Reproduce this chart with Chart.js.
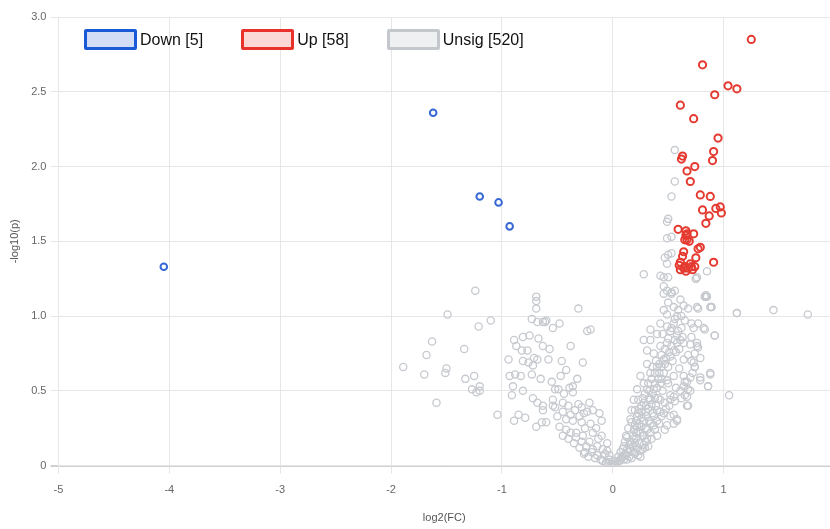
<!DOCTYPE html>
<html>
<head>
<meta charset="utf-8">
<script src="https://cdn.jsdelivr.net/npm/chart.js@4.4.1/dist/chart.umd.min.js"></script>
<style>
  html, body { margin: 0; padding: 0; background: #fff; overflow: hidden; }
  #wrap { position: relative; width: 830px; height: 529px; overflow: hidden; }
  #legend { position: absolute; left: 84px; top: 29px; display: flex; align-items: center;
    font-family: "Liberation Sans", Arial, sans-serif; font-size: 16px; color: #111; }
  .lg-item { display: flex; align-items: center; margin-right: 38px; }
  .lg-box { width: 47px; height: 15px; border: 3px solid; border-radius: 2px; margin-right: 3px; }
</style>
</head>
<body>
<div id="wrap">
  <canvas id="volcano" width="836" height="529"></canvas>
  <div id="legend"></div>
</div>
<script>
"use strict";

// ── 数据─────────────────────────────────────────
const legendLabels = ["Down [5]", "Up [58]", "Unsig [520]"];
const xTicks = [-5, -4, -3, -2, -1, 0, 1];
const yTicks = [0, 0.5, 1, 1.5, 2, 2.5, 3];

const downPts = [
  [-4.05, 1.33], [-1.62, 2.36], [-1.20, 1.80], [-1.03, 1.76], [-0.93, 1.60],
];

const upPts = [
  [1.25, 2.85], [0.81, 2.68], [1.04, 2.54], [1.12, 2.52], [0.92, 2.48], [0.61, 2.41],
  [0.73, 2.32], [0.95, 2.19], [0.91, 2.10], [0.90, 2.04], [0.63, 2.07], [0.62, 2.05],
  [0.67, 1.97], [0.74, 2.00], [0.70, 1.90], [0.79, 1.81], [0.88, 1.80], [0.81, 1.71],
  [0.93, 1.72], [0.97, 1.73], [0.98, 1.69], [0.87, 1.67], [0.84, 1.62], [0.59, 1.58],
  [0.66, 1.57], [0.67, 1.55], [0.73, 1.55], [0.65, 1.51], [0.67, 1.51], [0.79, 1.46],
  [0.64, 1.43], [0.75, 1.39], [0.91, 1.36], [0.61, 1.36], [0.65, 1.33], [0.61, 1.31],
  [0.68, 1.32], [0.71, 1.33], [0.74, 1.33], [0.64, 1.32], [0.69, 1.50], [0.66, 1.54],
  [0.70, 1.35], [0.72, 1.31], [0.63, 1.40], [0.77, 1.45], [0.60, 1.34], [0.66, 1.30],
];

const unsigPts = [
  // 上部零散点
  [0.56, 2.11], [0.56, 1.90], [0.53, 1.80], [0.50, 1.65], [0.49, 1.63], [0.49, 1.52],
  [0.53, 1.53], [0.47, 1.39], [0.50, 1.41], [0.53, 1.42], [0.49, 1.35], [0.28, 1.28],
  [0.43, 1.27], [0.46, 1.26], [0.50, 1.26], [0.46, 1.20], [0.49, 1.17], [0.53, 1.15],
  [0.56, 1.17], [0.76, 1.26], [0.85, 1.30], [0.84, 1.14], [0.75, 1.25], [0.83, 1.13],
  [0.89, 1.06], [0.77, 1.05], [1.12, 1.02], [1.45, 1.04], [1.76, 1.01],
  // 右臂
  [0.46, 1.15], [0.53, 1.16], [0.61, 1.11], [0.64, 1.07], [0.68, 1.05], [0.76, 1.06],
  [0.84, 1.13], [0.88, 1.06], [0.92, 0.87], [0.82, 0.92], [0.77, 0.95], [0.71, 0.95],
  [0.65, 0.97], [0.58, 1.00], [0.49, 1.01], [0.46, 1.04], [0.43, 0.95], [0.49, 0.93],
  [0.53, 0.92], [0.58, 0.87], [0.61, 0.84], [0.64, 0.82], [0.70, 0.81], [0.76, 0.80],
  [0.74, 0.75], [0.68, 0.74], [0.64, 0.71], [0.71, 0.70], [0.74, 0.66], [0.79, 0.72],
  [0.88, 0.62], [0.86, 0.53], [0.79, 0.59], [0.70, 0.59], [0.65, 0.56], [0.64, 0.53],
  [0.68, 0.51], [0.67, 0.46], [0.68, 0.40], [0.61, 0.50], [0.55, 0.46], [0.52, 0.44],
  [0.43, 0.44], [0.40, 0.37], [0.37, 0.33], [0.34, 0.28], [0.31, 0.24], [0.28, 0.20],
  [0.32, 0.13], [0.40, 0.20], [0.47, 0.24], [0.55, 0.28], [0.58, 0.31], [0.52, 0.33],
  [0.46, 0.35], [0.34, 0.44], [0.31, 0.51], [0.28, 0.55], [0.25, 0.60], [0.22, 0.51],
  [0.19, 0.44], [0.17, 0.37], [0.16, 0.31], [0.22, 0.26], [0.25, 0.22], [0.37, 0.51],
  [0.43, 0.55], [0.49, 0.57], [0.34, 0.62], [0.40, 0.66], [0.46, 0.71], [0.52, 0.73],
  [0.55, 0.77], [0.58, 0.82], [0.49, 0.82], [0.43, 0.80], [0.37, 0.75], [0.31, 0.68],
  [0.34, 0.84], [0.40, 0.88], [0.34, 0.91], [0.28, 0.84], [0.31, 0.77],
  [0.85, 1.13], [0.75, 1.25], [0.89, 1.06], [1.12, 1.02], [0.83, 0.91], [0.92, 0.87],
  [0.73, 0.92], [0.71, 0.86], [0.76, 0.82], [0.77, 0.79], [0.73, 0.69], [0.74, 0.66],
  [0.88, 0.61], [0.86, 0.53], [0.79, 0.57], [1.05, 0.47], [0.67, 0.56], [0.65, 0.47],
  [0.67, 0.40], [0.56, 0.43], [0.58, 0.30], [0.49, 0.27], [0.55, 0.34],
  // 右臂密集区
  [0.17, 0.05], [0.20, 0.08], [0.22, 0.12], [0.24, 0.15], [0.25, 0.10], [0.27, 0.20],
  [0.28, 0.14], [0.30, 0.25], [0.31, 0.18], [0.33, 0.30], [0.34, 0.22], [0.36, 0.35],
  [0.37, 0.27], [0.39, 0.40], [0.40, 0.30], [0.41, 0.45], [0.43, 0.36], [0.45, 0.50],
  [0.47, 0.42], [0.50, 0.55], [0.52, 0.47], [0.55, 0.60], [0.57, 0.52], [0.60, 0.65],
  [0.62, 0.45], [0.64, 0.60], [0.70, 0.50], [0.72, 0.62], [0.16, 0.10], [0.20, 0.15],
  [0.25, 0.06], [0.29, 0.12], [0.18, 0.20], [0.21, 0.30], [0.23, 0.35], [0.26, 0.40],
  [0.27, 0.45], [0.29, 0.48], [0.32, 0.55], [0.35, 0.58], [0.38, 0.62], [0.42, 0.68],
  [0.44, 0.74], [0.47, 0.78], [0.50, 0.85], [0.52, 0.90], [0.55, 0.95], [0.45, 0.88],
  [0.39, 0.70], [0.36, 0.66], [0.33, 0.50], [0.30, 0.40], [0.26, 0.32], [0.24, 0.28],
  [0.21, 0.22], [0.19, 0.18], [0.15, 0.14], [0.13, 0.11], [0.12, 0.20], [0.14, 0.25],
  [0.26, 0.36], [0.28, 0.42], [0.30, 0.33], [0.32, 0.38], [0.33, 0.45], [0.35, 0.41],
  [0.36, 0.48], [0.38, 0.45], [0.38, 0.55], [0.40, 0.52], [0.41, 0.58], [0.42, 0.62],
  [0.44, 0.58], [0.44, 0.66], [0.46, 0.62], [0.47, 0.68], [0.48, 0.72], [0.50, 0.66],
  [0.51, 0.76], [0.53, 0.80], [0.54, 0.70], [0.56, 0.84], [0.57, 0.76], [0.59, 0.90],
  [0.60, 0.78], [0.62, 0.92], [0.63, 0.86], [0.56, 0.98], [0.59, 1.04], [0.62, 1.00],
  [0.50, 1.09], [0.55, 1.06], [0.20, 0.27], [0.22, 0.33], [0.24, 0.38], [0.18, 0.13],
  [0.21, 0.18], [0.23, 0.23], [0.26, 0.26], [0.28, 0.30], [0.30, 0.36], [0.15, 0.06],
  [0.13, 0.04], [0.11, 0.08], [0.09, 0.06], [0.07, 0.04], [0.19, 0.09], [0.23, 0.07],
  [0.27, 0.11], [0.30, 0.16], [0.35, 0.18], [0.38, 0.24], [0.42, 0.28], [0.44, 0.33],
  [0.48, 0.38], [0.51, 0.40],
  // 谷底
  [-0.03, 0.04], [-0.01, 0.01], [0.02, 0.03], [0.07, 0.09], [0.10, 0.13], [0.13, 0.19],
  [0.17, 0.29], [0.20, 0.37], [0.23, 0.44], [0.19, 0.24], [0.16, 0.16],
  [-0.45, 0.20], [-0.40, 0.18], [-0.38, 0.22], [-0.35, 0.15], [-0.33, 0.19], [-0.30, 0.12],
  [-0.28, 0.16], [-0.26, 0.08], [-0.24, 0.13], [-0.22, 0.06], [-0.19, 0.09], [-0.16, 0.05],
  [-0.14, 0.07], [-0.11, 0.04], [-0.09, 0.03], [-0.06, 0.02], [-0.04, 0.015], [-0.02, 0.005],
  [0.00, 0.01], [0.02, 0.005], [0.04, 0.02], [0.06, 0.03], [0.08, 0.05], [0.10, 0.04],
  [0.12, 0.07], [0.14, 0.09], [0.05, 0.06], [0.09, 0.11], [0.11, 0.16], [0.01, 0.00],
  [-0.07, 0.08], [-0.05, 0.10], [-0.03, 0.07], [-0.13, 0.18], [-0.15, 0.25],
  // 左侧中部
  [-0.31, 1.05], [-0.23, 0.90], [-0.20, 0.91], [-0.48, 0.95], [-0.54, 0.92], [-0.61, 0.96],
  [-0.38, 0.80], [-0.57, 0.78], [-0.58, 0.71], [-0.27, 0.69], [-0.32, 0.58], [-0.55, 0.56],
  [-0.52, 0.51], [-0.49, 0.51], [-0.39, 0.52], [-0.36, 0.49], [-0.36, 0.53], [-0.54, 0.44],
  [-0.45, 0.42], [-0.54, 0.40], [-0.63, 0.37], [-0.52, 0.39], [-0.31, 0.41], [-0.28, 0.39],
  [-0.21, 0.42], [-0.18, 0.37], [-0.23, 0.36], [-0.48, 0.26], [-0.42, 0.24], [-0.36, 0.30],
  [-0.28, 0.29], [-0.33, 0.22], [-0.27, 0.20], [-0.18, 0.22], [-0.10, 0.30], [-0.10, 0.20],
  [-0.21, 0.16], [-0.14, 0.13], [-0.05, 0.15], [-0.25, 0.09], [-0.18, 0.11], [-0.09, 0.11],
  [-0.69, 1.13], [-0.69, 1.10], [-0.69, 1.05], [-0.73, 0.98], [-0.68, 0.96], [-0.63, 0.96],
  [-0.60, 0.97], [-0.89, 0.84], [-0.81, 0.86], [-0.75, 0.87], [-0.67, 0.85], [-0.63, 0.80],
  [-0.87, 0.80], [-0.82, 0.77], [-0.77, 0.77], [-0.71, 0.72], [-0.68, 0.71], [-0.94, 0.71],
  [-0.81, 0.70], [-0.76, 0.69], [-0.72, 0.67], [-0.93, 0.60], [-0.88, 0.61], [-0.83, 0.60],
  [-0.73, 0.61], [-0.65, 0.58], [-0.90, 0.53], [-0.81, 0.50], [-0.72, 0.45], [-0.68, 0.42],
  [-0.63, 0.40], [-0.91, 0.47], [-0.85, 0.34], [-0.79, 0.32], [-0.89, 0.30], [-0.69, 0.26],
  [-0.64, 0.29], [-0.60, 0.29], [-0.50, 0.33], [-0.45, 0.36], [-0.40, 0.40], [-0.42, 0.31],
  [-0.38, 0.34], [-0.34, 0.37], [-0.30, 0.33], [-0.26, 0.35], [-0.25, 0.25], [-0.20, 0.28],
  [-0.12, 0.35], [-0.44, 0.48], [-0.47, 0.60], [-0.42, 0.64], [-0.46, 0.70],
  // 左侧零散点
  [-1.24, 1.17], [-1.49, 1.01], [-1.10, 0.97], [-1.21, 0.93], [-1.63, 0.83], [-1.34, 0.78],
  [-1.68, 0.74], [-1.89, 0.66], [-1.70, 0.61], [-1.51, 0.62], [-1.50, 0.65], [-1.33, 0.58],
  [-1.25, 0.60], [-1.27, 0.51], [-1.23, 0.49], [-1.20, 0.53], [-1.20, 0.50], [-1.59, 0.42],
  [-1.04, 0.34],
];

// ── 图例（HTML，盖在图内左上）─────────────────────────────
const legendColors = [
  { border: "#1a5ad6", fill: "#d3def6" },
  { border: "#e8322b", fill: "#fbd8d6" },
  { border: "#c4c7cc", fill: "#eff0f2" },
];
document.getElementById("legend").innerHTML = legendLabels
  .map(
    (t, i) => `<div class="lg-item">
      <div class="lg-box" style="border-color:${legendColors[i].border};background:${legendColors[i].fill}"></div>
      <span>${t}</span></div>`
  )
  .join("");

// ── 火山图 ───────────────────────────────────────────────
// 画布比窗口宽 6px，让绘图区一直延伸到右边缘
const toXY = (arr) => arr.map((p) => ({ x: p[0], y: p[1] }));
const gridCol = "#e6e6e6";
const tickFont = { family: "'Liberation Sans', Arial, sans-serif", size: 11 };

new Chart(document.getElementById("volcano"), {
  type: "scatter",
  data: {
    datasets: [
      { label: legendLabels[0], data: toXY(downPts), borderColor: "#3568d4", backgroundColor: "transparent",
        pointRadius: 3.3, borderWidth: 2 },
      { label: legendLabels[1], data: toXY(upPts), borderColor: "#e53a30", backgroundColor: "transparent",
        pointRadius: 3.6, borderWidth: 2 },
      { label: legendLabels[2], data: toXY(unsigPts), borderColor: "#c6c9ce", backgroundColor: "transparent",
        pointRadius: 3.6, borderWidth: 1.3 },
    ],
  },
  options: {
    responsive: false,
    animation: false,
    layout: { padding: { left: 6, right: 0, top: 17, bottom: 2 } },
    plugins: { legend: { display: false }, tooltip: { enabled: false } },
    scales: {
      x: {
        type: "linear",
        min: -5,
        max: 1.96,
        afterBuildTicks: (axis) => { axis.ticks = xTicks.map((v) => ({ value: v })); },
        ticks: { color: "#666", font: tickFont, padding: 10 },
        grid: { color: gridCol },
        border: { color: gridCol },
        title: { display: true, text: "log2(FC)", color: "#555", font: tickFont, padding: { top: 5, bottom: 2 } },
      },
      y: {
        min: 0,
        max: 3,
        afterBuildTicks: (axis) => { axis.ticks = yTicks.map((v) => ({ value: v })); },
        ticks: { color: "#666", font: tickFont, padding: 4, callback: (v) => (v === 0 ? "0" : v.toFixed(1)) },
        grid: {
          color: (c) => (c.tick && c.tick.value === 0 ? "#cfcfcf" : gridCol),
          lineWidth: (c) => (c.tick && c.tick.value === 0 ? 2 : 1),
        },
        border: { color: gridCol },
        title: { display: true, text: "-log10(p)", color: "#555", font: tickFont, padding: { top: 2, bottom: 6 } },
      },
    },
  },
});
</script>
</body>
</html>
